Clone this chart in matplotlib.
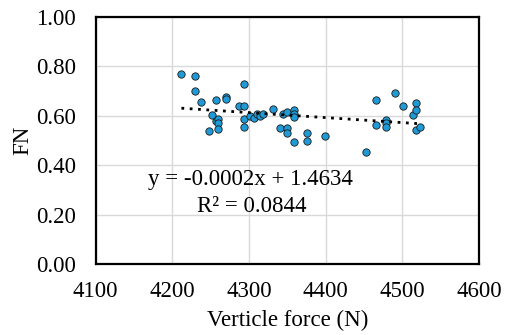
import matplotlib
matplotlib.use("Agg")
import matplotlib.pyplot as plt
import numpy as np

plt.rcParams['font.family'] = ['Liberation Serif', 'DejaVu Serif']

# data
force = [4212, 4230, 4230, 4238, 4252, 4257, 4257, 4260, 4260, 4260,
         4248, 4270, 4270, 4287, 4293, 4293, 4293, 4293, 4301, 4307,
         4310, 4314, 4319, 4332, 4341, 4345, 4350, 4350, 4350, 4359,
         4359, 4359, 4359, 4376, 4376, 4399, 4452, 4466, 4466, 4479,
         4479, 4479, 4491, 4501, 4514, 4518, 4518, 4518, 4523]
fn = [0.769, 0.761, 0.699, 0.655, 0.601, 0.663, 0.580, 0.585, 0.572, 0.546,
      0.538, 0.677, 0.666, 0.637, 0.637, 0.726, 0.585, 0.554, 0.597, 0.589,
      0.606, 0.597, 0.607, 0.626, 0.548, 0.606, 0.614, 0.550, 0.530, 0.622,
      0.607, 0.593, 0.492, 0.530, 0.499, 0.519, 0.452, 0.663, 0.562, 0.583,
      0.572, 0.553, 0.690, 0.641, 0.604, 0.651, 0.624, 0.542, 0.554]

xticks = [4100, 4200, 4300, 4400, 4500, 4600]
yticks = [0.0, 0.2, 0.4, 0.6, 0.8, 1.0]
eq_text = "y = -0.0002x + 1.4634"
r2_text = "R\u00b2 = 0.0844"

fs = 16.5

fig = plt.figure(figsize=(5.08, 3.35), dpi=100)
ax = fig.add_axes([0.188, 0.212, 0.755, 0.738])

ax.scatter(force, fn, s=28, color='#1f9ad6', edgecolors='#1a1a1a',
           linewidths=0.6, zorder=3)

# linear trendline
k, b = np.polyfit(force, fn, 1)
xl = np.array([min(force), max(force)])
ax.plot(xl, k*xl + b, color='black', lw=2, linestyle=(0, (1, 2)), zorder=4)

ax.text(4302, 0.34, eq_text, ha='center', va='center', fontsize=fs)
ax.text(4304, 0.232, r2_text, ha='center', va='center', fontsize=fs)

ax.set_xlim(4100, 4600)
ax.set_ylim(0, 1)
ax.set_xticks(xticks)
ax.set_yticks(yticks)
ax.set_yticklabels([f"{v:.2f}" for v in yticks])
ax.tick_params(length=0, labelsize=fs)
ax.tick_params(axis='x', pad=12)
ax.tick_params(axis='y', pad=14)
ax.grid(color='#d9d9d9', lw=1)
ax.set_axisbelow(True)
for s in ax.spines.values():
    s.set_linewidth(1.6)
    s.set_color('black')

ax.set_xlabel("Verticle force (N)", fontsize=fs, labelpad=6)
ax.set_ylabel("FN", fontsize=fs, labelpad=2)

fig.savefig("out.png", dpi=100)
